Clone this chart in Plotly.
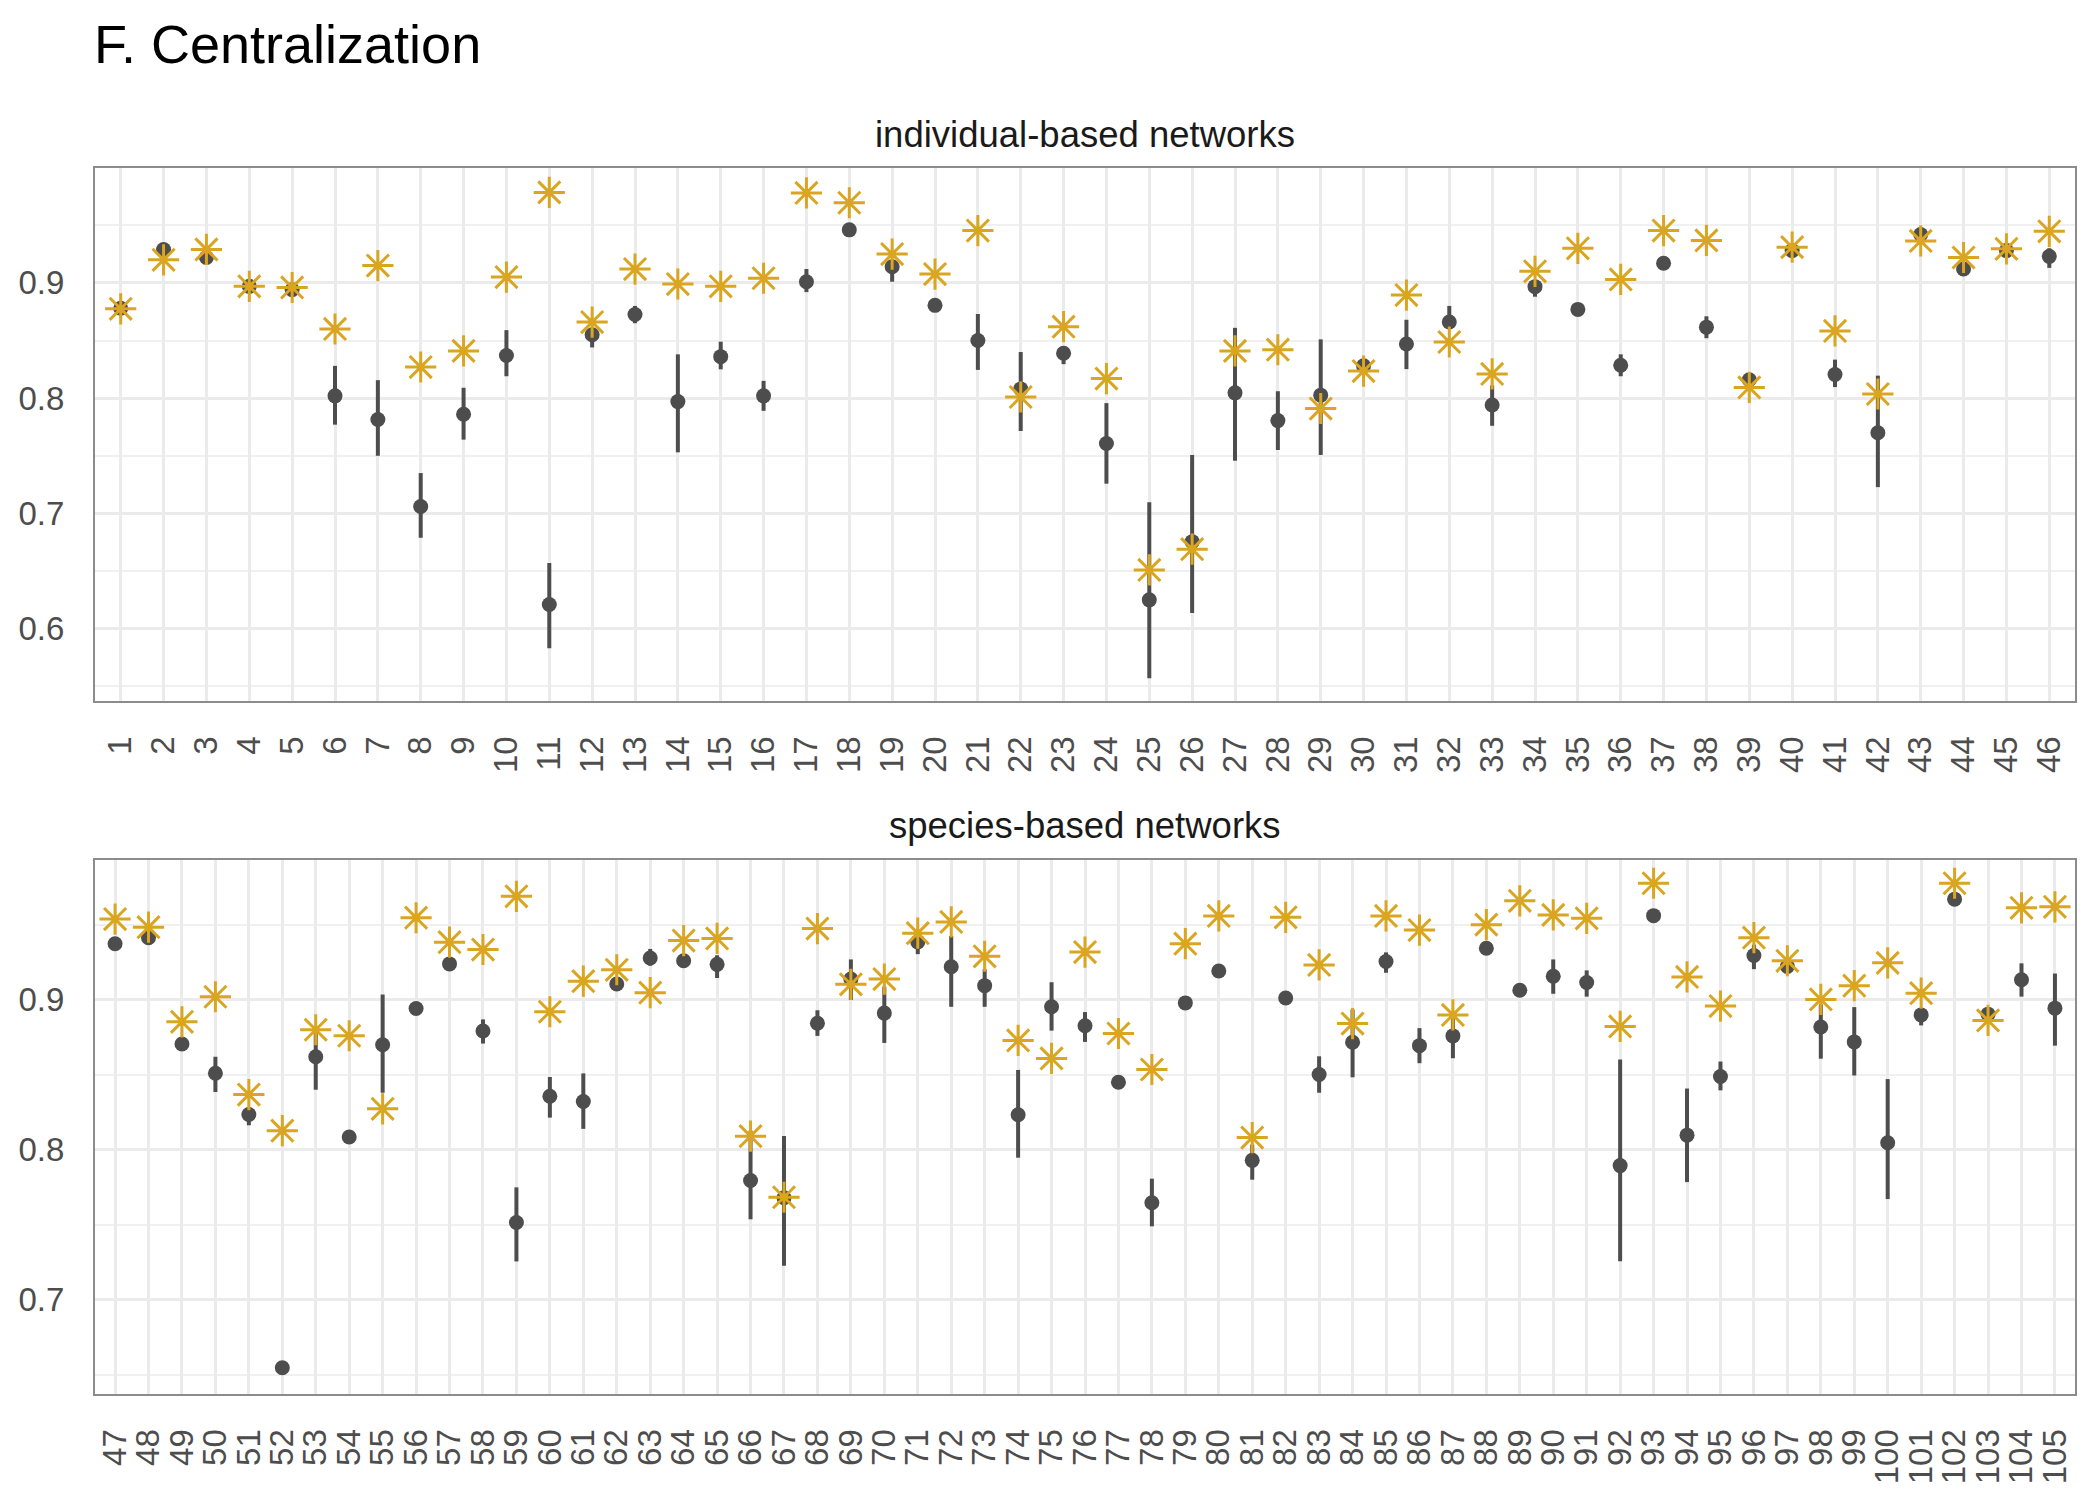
import plotly.graph_objects as go

# ---------------- data: individual-based networks (1-46) ----------------
ind_labels = [str(i) for i in range(1, 47)]
ind_est = [0.878, 0.929, 0.922, 0.897, 0.894, 0.802, 0.7815, 0.706, 0.786, 0.837,
           0.621, 0.855, 0.8725, 0.797, 0.836, 0.802, 0.901, 0.946, 0.914, 0.8805,
           0.850, 0.808, 0.839, 0.7606, 0.625, 0.6755, 0.8046, 0.7805, 0.8026, 0.828,
           0.847, 0.866, 0.794, 0.8967, 0.877, 0.8285, 0.917, 0.8616, 0.816, 0.928,
           0.8205, 0.770, 0.942, 0.912, 0.928, 0.923]
ind_lo = [0.878, 0.929, 0.922, 0.897, 0.894, 0.777, 0.750, 0.679, 0.764, 0.819,
          0.583, 0.844, 0.865, 0.753, 0.825, 0.789, 0.892, 0.946, 0.901, 0.8805,
          0.8245, 0.7715, 0.8295, 0.7258, 0.557, 0.6136, 0.7457, 0.755, 0.7507, 0.828,
          0.8252, 0.861, 0.776, 0.888, 0.877, 0.819, 0.917, 0.852, 0.816, 0.928,
          0.8096, 0.7228, 0.942, 0.912, 0.928, 0.913]
ind_hi = [0.878, 0.929, 0.922, 0.897, 0.894, 0.828, 0.8156, 0.735, 0.809, 0.859,
          0.657, 0.861, 0.880, 0.838, 0.849, 0.815, 0.912, 0.946, 0.920, 0.8805,
          0.873, 0.840, 0.8444, 0.7957, 0.7096, 0.7507, 0.861, 0.806, 0.851, 0.828,
          0.868, 0.880, 0.811, 0.901, 0.877, 0.838, 0.917, 0.871, 0.816, 0.928,
          0.8334, 0.8195, 0.942, 0.912, 0.928, 0.930]
ind_emp = [0.8775, 0.920, 0.929, 0.897, 0.896, 0.860, 0.915, 0.827, 0.841, 0.905,
           0.9785, 0.866, 0.912, 0.899, 0.897, 0.904, 0.978, 0.9695, 0.925, 0.9076,
           0.9454, 0.801, 0.862, 0.817, 0.651, 0.669, 0.841, 0.842, 0.791, 0.8235,
           0.8894, 0.8487, 0.821, 0.910, 0.930, 0.903, 0.9454, 0.9368, 0.8093, 0.931,
           0.8583, 0.8036, 0.9364, 0.922, 0.9295, 0.9447]

# ---------------- data: species-based networks (47-105) ----------------
sp_labels = [str(i) for i in range(47, 106)]
sp_est = [0.9374, 0.9414, 0.8705, 0.851, 0.8235, 0.6546, 0.862, 0.8085, 0.870, 0.8942,
          0.9239, 0.8792, 0.7515, 0.8357, 0.8322, 0.9105, 0.9278, 0.926, 0.9236, 0.7795,
          0.768, 0.8843, 0.9138, 0.8911, 0.9386, 0.922, 0.9094, 0.8233, 0.8953, 0.8827,
          0.845, 0.7646, 0.8979, 0.9192, 0.7929, 0.9012, 0.8502, 0.8717, 0.9255, 0.8694,
          0.8759, 0.9344, 0.9063, 0.9157, 0.9115, 0.7894, 0.9561, 0.8097, 0.8488, 0.9295,
          0.9222, 0.8818, 0.8719, 0.8046, 0.8899, 0.9671, 0.8904, 0.9133, 0.8944]
sp_lo = [0.9374, 0.9414, 0.8705, 0.8385, 0.8163, 0.6546, 0.840, 0.8085, 0.838, 0.8942,
         0.9239, 0.8708, 0.7255, 0.8214, 0.8139, 0.906, 0.9227, 0.926, 0.9145, 0.7536,
         0.7227, 0.8759, 0.8998, 0.8712, 0.9304, 0.8953, 0.8953, 0.7947, 0.8794, 0.8719,
         0.845, 0.7489, 0.895, 0.9192, 0.780, 0.9012, 0.838, 0.8483, 0.918, 0.8577,
         0.861, 0.9344, 0.9063, 0.904, 0.9021, 0.7257, 0.9561, 0.7784, 0.8396, 0.9204,
         0.919, 0.8607, 0.8495, 0.7671, 0.8829, 0.9671, 0.8904, 0.9021, 0.8694]
sp_hi = [0.9374, 0.9414, 0.8705, 0.862, 0.828, 0.6546, 0.882, 0.8085, 0.9035, 0.8942,
         0.9239, 0.8869, 0.7749, 0.8485, 0.8509, 0.914, 0.9339, 0.926, 0.9297, 0.8127,
         0.8092, 0.893, 0.9269, 0.9087, 0.9426, 0.9426, 0.9204, 0.8532, 0.9117, 0.8918,
         0.845, 0.7807, 0.901, 0.9192, 0.8034, 0.9012, 0.8623, 0.8935, 0.9316, 0.8811,
         0.889, 0.9344, 0.9063, 0.9269, 0.9196, 0.8602, 0.9561, 0.8408, 0.8588, 0.9367,
         0.926, 0.897, 0.8951, 0.8471, 0.8946, 0.9671, 0.8904, 0.9243, 0.9175]
sp_emp = [0.9538, 0.9484, 0.8853, 0.902, 0.8368, 0.8127, 0.880, 0.876, 0.8273, 0.9547,
          0.9384, 0.9335, 0.969, 0.892, 0.9124, 0.920, 0.9047, 0.9395, 0.9409, 0.809,
          0.7683, 0.9475, 0.9103, 0.9138, 0.9444, 0.9519, 0.929, 0.8729, 0.8609, 0.9318,
          0.8775, 0.8535, 0.9374, 0.9559, 0.8081, 0.955, 0.9232, 0.8841, 0.9559, 0.9465,
          0.8899, 0.9501, 0.966, 0.9566, 0.9543, 0.8822, 0.9777, 0.9152, 0.8958, 0.9414,
          0.926, 0.9002, 0.9094, 0.9246, 0.9044, 0.9777, 0.8862, 0.9613, 0.962]

y_ticks = [0.6, 0.7, 0.8, 0.9]
y_minor = [0.55, 0.65, 0.75, 0.85, 0.95]

W, H = 2100, 1500
FONT = "Liberation Sans, Arial, Helvetica, sans-serif"
DOT = "#4D4D4D"
GOLD = "#DAA520"
GRID = "#EBEBEB"
BORDER = "#8C8C8C"

fig = go.Figure()


def add_panel(labels, est, lo, hi, emp, xa, ya):
    fig.add_trace(go.Scatter(
        x=labels, y=est, mode="markers", xaxis=xa, yaxis=ya,
        marker=dict(color=DOT, size=15, line=dict(width=0)),
        error_y=dict(type="data", symmetric=False,
                     array=[h - e for h, e in zip(hi, est)],
                     arrayminus=[e - l for e, l in zip(est, lo)],
                     thickness=4, width=0, color=DOT),
        showlegend=False, hoverinfo="x+y"))
    fig.add_trace(go.Scatter(
        x=labels, y=emp, mode="markers", xaxis=xa, yaxis=ya,
        marker=dict(symbol="asterisk-open", size=26, color=GOLD,
                    line=dict(color=GOLD, width=3)),
        showlegend=False, hoverinfo="x+y"))


add_panel(ind_labels, ind_est, ind_lo, ind_hi, ind_emp, "x", "y")
add_panel(sp_labels, sp_est, sp_lo, sp_hi, sp_emp, "x2", "y2")

xdom = [95 / W, 2075 / W]


def xaxis_cfg(labels, anchor):
    return dict(domain=xdom, anchor=anchor, type="category",
                categoryorder="array", categoryarray=labels,
                range=[-0.6, len(labels) - 0.4],
                tickmode="array", tickvals=labels, ticktext=labels,
                tickangle=-90, tickfont=dict(family=FONT, size=33, color="#4D4D4D"),
                showgrid=True, gridcolor=GRID, gridwidth=3,
                showline=True, mirror=True, linecolor=BORDER, linewidth=2,
                zeroline=False, ticks="", ticklabelstandoff=20, fixedrange=True)


def yaxis_cfg(dom, rng, anchor):
    return dict(domain=dom, anchor=anchor, range=rng,
                tickmode="array", tickvals=y_ticks,
                ticktext=[f"{v:.1f}" for v in y_ticks],
                tickfont=dict(family=FONT, size=33, color="#4D4D4D"),
                showgrid=True, gridcolor=GRID, gridwidth=3,
                minor=dict(tickmode="array", tickvals=y_minor, showgrid=True,
                           gridcolor="#F0F0F0", gridwidth=1.6, ticks=""),
                showline=True, mirror=True, linecolor=BORDER, linewidth=2,
                zeroline=False, ticks="", ticklabelstandoff=22, fixedrange=True)


fig.update_layout(
    width=W, height=H,
    margin=dict(l=0, r=0, t=0, b=0),
    paper_bgcolor="white", plot_bgcolor="white",
    showlegend=False,
    font=dict(family=FONT),
    xaxis=xaxis_cfg(ind_labels, "y"),
    yaxis=yaxis_cfg([1 - 701.2 / H, 1 - 168.4 / H], [0.5371, 0.9993], "x"),
    xaxis2=xaxis_cfg(sp_labels, "y2"),
    yaxis2=yaxis_cfg([1 - 1394 / H, 1 - 860 / H], [0.6371, 0.9932], "x2"),
    annotations=[
        dict(text="F. Centralization", x=92 / W, y=1 - 44 / H, xref="paper", yref="paper",
             xanchor="left", yanchor="middle", showarrow=False,
             font=dict(family=FONT, size=54, color="black")),
        dict(text="individual-based networks", x=1085 / W, y=1 - 134 / H,
             xref="paper", yref="paper", xanchor="center", yanchor="middle",
             showarrow=False, font=dict(family=FONT, size=36.5, color="#1A1A1A")),
        dict(text="species-based networks", x=1085 / W, y=1 - 825 / H,
             xref="paper", yref="paper", xanchor="center", yanchor="middle",
             showarrow=False, font=dict(family=FONT, size=36.5, color="#1A1A1A")),
    ],
)

fig.write_html("out.html")
